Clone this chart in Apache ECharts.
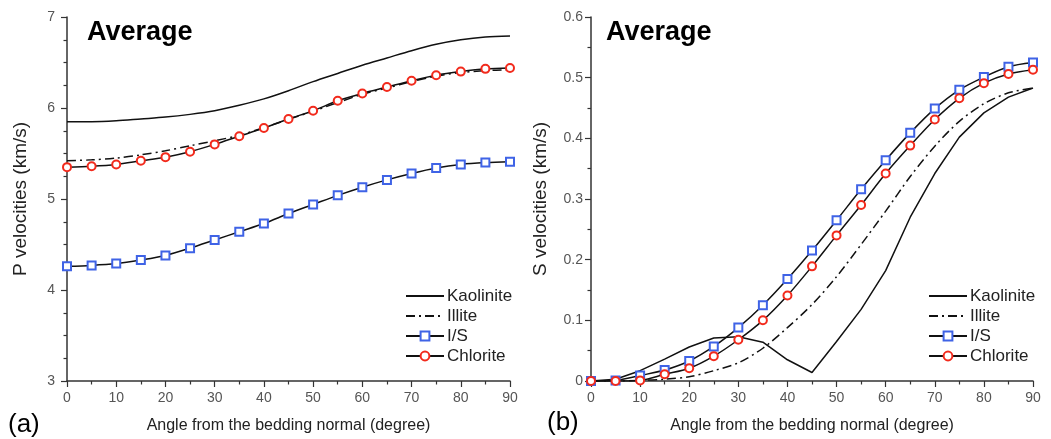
<!DOCTYPE html>
<html>
<head>
<meta charset="utf-8">
<script src="https://cdn.jsdelivr.net/npm/echarts@6/dist/echarts.min.js"></script>
<style>
html,body{margin:0;padding:0;background:#fff;}
#chart{width:1051px;height:439px;}
</style>
</head>
<body>
<div id="chart"></div>
<script>
const angles = [0,5,10,15,20,25,30,35,40,45,50,55,60,65,70,75,80,85,90];
const xTicks = [0,10,20,30,40,50,60,70,80,90];
const seriesNames = ['Kaolinite','Illite','I/S','Chlorite'];

// (a) P velocities (km/s)
const pKaolinite = [5.85,5.85,5.86,5.88,5.90,5.93,5.97,6.03,6.10,6.19,6.29,6.38,6.47,6.55,6.63,6.70,6.75,6.78,6.79];
const pIllite    = [5.42,5.43,5.45,5.485,5.53,5.585,5.64,5.70,5.785,5.875,5.965,6.06,6.15,6.22,6.29,6.35,6.39,6.41,6.42];
const pIS        = [4.26,4.27,4.29,4.33,4.38,4.46,4.55,4.64,4.73,4.84,4.94,5.04,5.13,5.21,5.28,5.34,5.38,5.40,5.41];
const pChlorite  = [5.35,5.36,5.38,5.42,5.46,5.52,5.60,5.69,5.78,5.88,5.97,6.08,6.16,6.23,6.30,6.36,6.40,6.43,6.44];

// (b) S velocities (km/s)
const sKaolinite = [0,0.003,0.017,0.036,0.056,0.071,0.073,0.064,0.035,0.014,0.065,0.118,0.182,0.27,0.342,0.402,0.442,0.468,0.483];
const sIllite    = [0,0,0.001,0.003,0.007,0.017,0.030,0.054,0.088,0.126,0.172,0.225,0.28,0.337,0.387,0.428,0.457,0.475,0.483];
const sIS        = [0,0.001,0.009,0.018,0.033,0.057,0.088,0.125,0.168,0.215,0.265,0.316,0.364,0.409,0.449,0.480,0.501,0.518,0.525];
const sChlorite  = [0,0,0.001,0.011,0.021,0.041,0.068,0.100,0.141,0.189,0.240,0.290,0.342,0.388,0.431,0.466,0.491,0.506,0.513];

const pairs = (ys) => angles.map((a,i) => [a, ys[i]]);

const FONT = 'Liberation Sans, Arial, sans-serif';
const BLUE = '#3f63e6';
const RED = '#f22a1c';
const AXIS = '#333';

function xAxisCfg(gi){
  return {
    gridIndex: gi, type: 'value', min: 0, max: 90, interval: 10,
    name: 'Angle from the bedding normal (degree)', nameLocation: 'middle', nameGap: 37,
    nameTextStyle: {fontFamily: FONT, fontSize: 16, color: '#222'},
    axisLine: {lineStyle: {color: AXIS, width: 1.5}},
    axisTick: {show: true, length: 6, lineStyle: {color: AXIS, width: 1.2}},
    minorTick: {show: true, splitNumber: 2, length: 3.5, lineStyle: {color: AXIS, width: 1.2}},
    axisLabel: {fontFamily: FONT, fontSize: 14, color: '#555', margin: 10,
      formatter: (v) => xTicks.includes(v) ? String(v) : ''},
    splitLine: {show: false}
  };
}
function yAxisCfg(gi, min, max, interval, minorSplit, name, nameGap, margin, fmt){
  return {
    gridIndex: gi, type: 'value', min, max, interval,
    name, nameLocation: 'middle', nameGap,
    nameTextStyle: {fontFamily: FONT, fontSize: 19, color: '#222'},
    axisLine: {show: true, lineStyle: {color: AXIS, width: 1.5}},
    axisTick: {show: true, length: 6, lineStyle: {color: AXIS, width: 1.2}},
    minorTick: {show: true, splitNumber: minorSplit, length: 3.5, lineStyle: {color: AXIS, width: 1.2}},
    axisLabel: {fontFamily: FONT, fontSize: 14, color: '#555', margin, formatter: fmt},
    splitLine: {show: false}
  };
}

function makeSeries(gi, kao, ill, is, chl, kaoSmooth){
  const base = {type: 'line', xAxisIndex: gi, yAxisIndex: gi, animation: false, z: 2};
  return [
    Object.assign({}, base, {name: 'Kaolinite', data: pairs(kao), showSymbol: false, symbol: 'none',
      smooth: kaoSmooth,
      lineStyle: {color: '#111', width: 1.5, type: 'solid'}, itemStyle: {color: '#111'}}),
    Object.assign({}, base, {name: 'Illite', data: pairs(ill), showSymbol: false, symbol: 'none',
      smooth: 0.3,
      lineStyle: {color: '#111', width: 1.5, type: [9,4,2,4]}, itemStyle: {color: '#111'}}),
    Object.assign({}, base, {name: 'I/S', data: pairs(is), symbol: 'rect', symbolSize: 8,
      smooth: 0.3, z: 3,
      lineStyle: {color: '#111', width: 1.5}, itemStyle: {color: '#fff', borderColor: BLUE, borderWidth: 2}}),
    Object.assign({}, base, {name: 'Chlorite', data: pairs(chl), symbol: 'circle', symbolSize: 8,
      smooth: 0.3, z: 4,
      lineStyle: {color: '#111', width: 1.5}, itemStyle: {color: '#fff', borderColor: RED, borderWidth: 2}})
  ];
}

function legendCfg(left){
  return {
    orient: 'vertical', left, top: 286, padding: 0, itemWidth: 38, itemHeight: 11, itemGap: 0,
    selectedMode: false,
    data: [
      {name: 'Kaolinite', itemStyle: {opacity: 0}},
      {name: 'Illite', itemStyle: {opacity: 0}},
      {name: 'I/S'},
      {name: 'Chlorite'}
    ],
    textStyle: {fontFamily: FONT, fontSize: 17, lineHeight: 20, color: '#222', padding: [0,0,0,-2]}
  };
}

const titleStyle = (sz, w) => ({fontFamily: FONT, fontSize: sz, fontWeight: w, color: '#000'});
const chart = echarts.init(document.getElementById('chart'), null, {renderer: 'canvas'});
chart.setOption({
  backgroundColor: '#fff',
  animation: false,
  title: [
    {text: 'Average', left: 87, top: 19, padding: 0, textStyle: titleStyle(27, 'bold')},
    {text: 'Average', left: 606, top: 19, padding: 0, textStyle: titleStyle(27, 'bold')},
    {text: '(a)', left: 8, top: 412, padding: 0, textStyle: titleStyle(26, 'normal')},
    {text: '(b)', left: 547, top: 410, padding: 0, textStyle: titleStyle(26, 'normal')}
  ],
  grid: [
    {left: 67, top: 17, width: 443, height: 367},
    {left: 591, top: 17, width: 442, height: 367}
  ],
  legend: [legendCfg(405), legendCfg(928)],
  xAxis: [xAxisCfg(0), xAxisCfg(1)],
  yAxis: [
    yAxisCfg(0, 3, 7, 1, 4, 'P velocities (km/s)', 37, 12, (v) => String(v)),
    yAxisCfg(1, 0, 0.6, 0.1, 2, 'S velocities (km/s)', 41, 8, (v) => v === 0 ? '0' : v.toFixed(1))
  ],
  series: [].concat(
    makeSeries(0, pKaolinite, pIllite, pIS, pChlorite, 0.3),
    makeSeries(1, sKaolinite, sIllite, sIS, sChlorite, false)
  )
});
</script>
</body>
</html>
